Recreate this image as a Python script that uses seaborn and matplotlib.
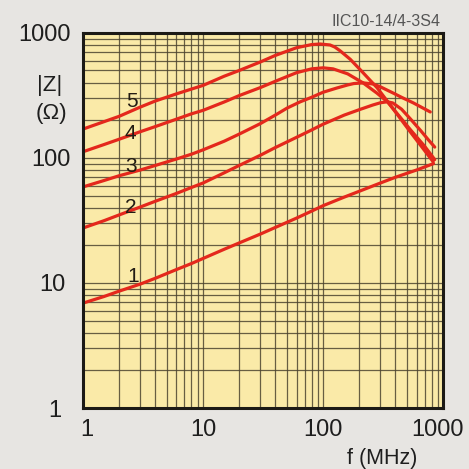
import numpy as np
import pandas as pd
import matplotlib
matplotlib.use("Agg")
import matplotlib.pyplot as plt
from matplotlib.transforms import ScaledTranslation
import seaborn as sns

# Impedance |Z| (ohm) versus frequency (MHz) for five winding variants
freq_1 = [1, 1.5, 2, 3, 4, 6, 8, 10, 15, 20, 30, 40, 60, 80, 100, 150, 200, 300, 400, 600, 830]
z_1 = [6.9, 7.8, 8.6, 9.8, 10.9, 12.8, 14.3, 15.7, 18.6, 20.9, 24.6, 27.8, 33, 37.5, 41.5,
       48.6, 54.1, 63, 70, 80, 90]

freq_2 = [1, 1.5, 2, 3, 4, 6, 8, 10, 15, 20, 30, 40, 60, 80, 100, 150, 200, 260, 300, 343,
          380, 450, 533, 650, 750, 850]
z_2 = [27.5, 31.5, 35, 40.5, 45, 52, 58, 63, 76, 87, 105, 121, 146, 167, 186, 220, 243,
       265, 276, 281, 275, 245, 205, 165, 140, 122]

freq_3 = [1, 1.5, 2, 3, 4, 6, 8, 10, 15, 20, 30, 40, 50, 64, 80, 100, 130, 160, 180, 215,
          260, 300, 383, 450, 565, 680, 780]
z_3 = [58.6, 66, 72, 80, 87, 98, 107, 116, 136, 155, 188, 220, 250, 280, 305, 335, 362, 383,
       393, 398, 390, 370, 330, 305, 275, 250, 233]

freq_4 = [1, 1.5, 2, 3, 4, 6, 8, 10, 15, 20, 30, 40, 60, 80, 100, 121, 160, 215, 280, 343,
          450, 533, 700, 850]
z_4 = [112, 128, 141, 162, 178, 204, 225, 240, 280, 315, 365, 410, 480, 515, 525, 515, 470,
       398, 330, 281, 205, 168, 124, 97]

freq_5 = [1, 1.5, 2, 3, 4, 6, 8, 10, 15, 20, 30, 40, 60, 80, 94, 114, 125, 138, 168, 215,
          282, 362, 533, 826]
z_5 = [170, 195, 215, 255, 285, 325, 355, 380, 450, 500, 585, 660, 760, 805, 814, 800, 770,
       720, 615, 480, 363, 265, 161, 93]

curve_names = ["1", "2", "3", "4", "5"]
label_freq = [2.6, 2.5, 2.5, 2.5, 2.55]
label_z = [11.2, 40, 86, 158, 285]

x_ticks = [1, 10, 100, 1000]
y_ticks = [1, 10, 100, 1000]

frames = []
for name, f, z in zip(curve_names,
                      [freq_1, freq_2, freq_3, freq_4, freq_5],
                      [z_1, z_2, z_3, z_4, z_5]):
    frames.append(pd.DataFrame({"f": f, "z": z, "curve": name}))
data = pd.concat(frames, ignore_index=True)

sns.set_theme(style="ticks")
plt.rcParams["font.family"] = ["Liberation Sans", "DejaVu Sans"]

fig = plt.figure(figsize=(4.69, 4.69), dpi=100)
fig.patch.set_facecolor("#e7e5e2")
ax = fig.add_axes([0.177, 0.130, 0.768, 0.800])
ax.set_facecolor("#faeaa8")

ax.set_xscale("log")
ax.set_yscale("log")
ax.set_xlim(1, 1000)
ax.set_ylim(1, 1000)

ax.grid(True, which="both", color="#4d4530", linewidth=0.9, alpha=0.85)
ax.set_axisbelow(True)

sns.lineplot(data=data, x="f", y="z", hue="curve",
             palette={n: "#e4281c" for n in curve_names},
             linewidth=2.3, legend=False, ax=ax, zorder=3)
for line in ax.get_lines():
    line.set_solid_joinstyle("round")
    line.set_solid_capstyle("round")

for name, lf, lz in zip(curve_names, label_freq, label_z):
    ax.text(lf, lz, name, fontsize=15, color="#231c14",
            ha="center", va="center", zorder=4)

for s in ax.spines.values():
    s.set_linewidth(2.2)
    s.set_color("#1c1a16")
    s.set_zorder(5)

ax.set_xticks(x_ticks)
ax.set_xticklabels([str(t) for t in x_ticks])
ax.set_yticks(y_ticks)
ax.set_yticklabels([str(t) for t in y_ticks])
ax.tick_params(which="both", length=0)
ax.tick_params(axis="x", labelsize=17, pad=8, colors="#1e1e1e")
ax.tick_params(axis="y", labelsize=17, pad=9, colors="#1e1e1e")

# nudge edge tick labels to sit inside the figure
xl = ax.get_xticklabels()
xl[0].set_transform(xl[0].get_transform() + ScaledTranslation(4 / 100, 0, fig.dpi_scale_trans))
xl[-1].set_transform(xl[-1].get_transform() + ScaledTranslation(-6 / 100, 0, fig.dpi_scale_trans))
yl = ax.get_yticklabels()
yl[0].set_transform(yl[0].get_transform() + ScaledTranslation(-9 / 100, 0, fig.dpi_scale_trans))
yl[1].set_transform(yl[1].get_transform() + ScaledTranslation(-5 / 100, 0, fig.dpi_scale_trans))

ax.set_xlabel("")
ax.set_ylabel("")

fig.text(50 / 469, 1 - 86 / 469, "|Z|", fontsize=16, ha="center", va="center", color="#1e1e1e")
fig.text(51 / 469, 1 - 113 / 469, "(Ω)", fontsize=16, ha="center", va="center", color="#1e1e1e")
fig.text(382 / 469, 1 - 458 / 469, "f (MHz)", fontsize=15.5, ha="center", va="center", color="#1e1e1e")
fig.text(440 / 469, 1 - 22 / 469, "IIC10-14/4-3S4", fontsize=11.5, ha="right", va="center", color="#555555")

fig.savefig("out.png", dpi=100, facecolor=fig.get_facecolor())
